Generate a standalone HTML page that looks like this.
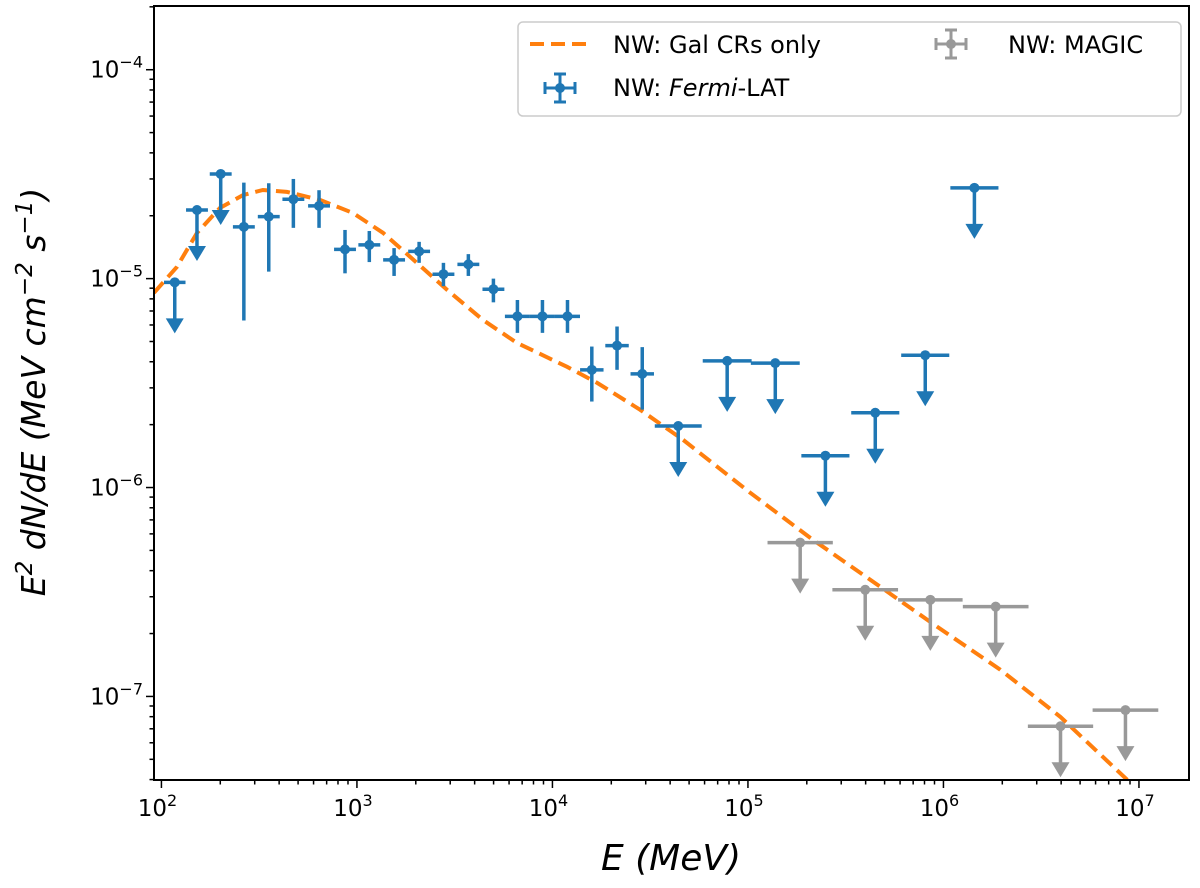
<!DOCTYPE html>
<html><head><meta charset="utf-8"><style>
html,body{margin:0;padding:0;background:#fff;}
svg{display:block;font-family:"DejaVu Sans","Liberation Sans",sans-serif;}
</style></head><body>
<svg id="chart" width="1200" height="888" viewBox="0 0 1200 888" xmlns="http://www.w3.org/2000/svg">
<g id="plot"></g>
<g id="axes"></g>
<text x="671" y="870" font-size="36" font-style="italic" text-anchor="middle">E (MeV)</text>
<text transform="translate(45,392) rotate(-90)" font-size="33" font-style="italic" text-anchor="middle">E<tspan dy="-13" font-size="23">2</tspan><tspan dy="13"> dN/dE (MeV cm</tspan><tspan dy="-13" font-size="23">−2</tspan><tspan dy="13"> s</tspan><tspan dy="-13" font-size="23">−1</tspan><tspan dy="13">)</tspan></text>
<g>
<rect x="518" y="22" width="663" height="94" rx="5" fill="#fff" stroke="#ccc" stroke-width="1.5"/>
<g>
<line x1="530" y1="44" x2="590" y2="44" stroke="#ff7f0e" stroke-width="4" stroke-dasharray="14,7"/>
<text x="613" y="53" font-size="24">NW: Gal CRs only</text></g>
<g>
<line x1="545" y1="88" x2="575" y2="88" stroke="#1f77b4" stroke-width="3"/>
<line x1="560" y1="74" x2="560" y2="102" stroke="#1f77b4" stroke-width="3"/>
<line x1="545" y1="82" x2="545" y2="94" stroke="#1f77b4" stroke-width="3"/>
<line x1="575" y1="82" x2="575" y2="94" stroke="#1f77b4" stroke-width="3"/>
<line x1="554" y1="74" x2="566" y2="74" stroke="#1f77b4" stroke-width="3"/>
<line x1="554" y1="102" x2="566" y2="102" stroke="#1f77b4" stroke-width="3"/>
<circle cx="560" cy="88" r="5" fill="#1f77b4"/>
<text x="613" y="96" font-size="24">NW: <tspan font-style="italic">Fermi</tspan>-LAT</text></g>
<g>
<line x1="936" y1="44" x2="966" y2="44" stroke="#999" stroke-width="3"/>
<line x1="951" y1="30" x2="951" y2="58" stroke="#999" stroke-width="3"/>
<line x1="936" y1="38" x2="936" y2="50" stroke="#999" stroke-width="3"/>
<line x1="966" y1="38" x2="966" y2="50" stroke="#999" stroke-width="3"/>
<line x1="945" y1="30" x2="957" y2="30" stroke="#999" stroke-width="3"/>
<line x1="945" y1="58" x2="957" y2="58" stroke="#999" stroke-width="3"/>
<circle cx="951" cy="44" r="5" fill="#999"/>
<text x="1008" y="53" font-size="24">NW: MAGIC</text></g>
</g>
</svg>
<script>
// Fermi-LAT data points (MeV, MeV cm^-2 s^-1)
const fermiE = [117,152,201,264,354,473,640,869,1157,1549,2080,2770,3715,4990,6620,8890,11940,15900,21400,28800,44000,78300,138000,249000,448000,807000,1440000];
const fermiF = [9.6e-6,2.13e-5,3.17e-5,1.77e-5,1.98e-5,2.40e-5,2.23e-5,1.38e-5,1.45e-5,1.23e-5,1.35e-5,1.05e-5,1.17e-5,8.9e-6,6.6e-6,6.6e-6,6.6e-6,3.66e-6,4.78e-6,3.5e-6,1.97e-6,4.04e-6,3.94e-6,1.42e-6,2.28e-6,4.3e-6,2.72e-5];
const fermiHi = [null,null,null,2.88e-5,2.86e-5,3.0e-5,2.65e-5,1.71e-5,1.69e-5,1.40e-5,1.50e-5,1.19e-5,1.31e-5,1.0e-5,7.9e-6,7.9e-6,7.9e-6,4.73e-6,5.9e-6,4.7e-6,null,null,null,null,null,null,null];
const fermiLo = [null,null,null,6.3e-6,1.08e-5,1.75e-5,1.75e-5,1.06e-5,1.20e-5,1.03e-5,1.19e-5,9.2e-6,1.03e-5,7.7e-6,5.5e-6,5.5e-6,5.5e-6,2.58e-6,3.66e-6,2.36e-6,null,null,null,null,null,null,null];
const fermiUL = [1,1,1,0,0,0,0,0,0,0,0,0,0,0,0,0,0,0,0,0,1,1,1,1,1,1,1];
const fermiHalfDex = [0.055,0.056,0.056,0.056,0.056,0.056,0.056,0.056,0.056,0.056,0.056,0.056,0.056,0.056,0.064,0.064,0.064,0.06,0.06,0.06,0.12,0.125,0.125,0.123,0.123,0.123,0.123];
// MAGIC upper limits
const magicE = [185000,398000,857000,1850000,3970000,8530000];
const magicF = [5.45e-7,3.24e-7,2.90e-7,2.69e-7,7.2e-8,8.6e-8];
const magicHalfDex = [0.167,0.168,0.165,0.168,0.167,0.168];
// Model curve (log10 E, log10 E2dN/dE)
const modelLogE = [1.962,2.079,2.182,2.299,2.417,2.519,2.642,2.811,2.980,3.134,3.308,3.461,3.645,3.819,4.075,4.229,4.449,4.669,5.012,5.319,5.677,5.969,6.291,6.598,6.941,7.059];
const modelLogF = [-5.068,-4.944,-4.781,-4.662,-4.600,-4.576,-4.585,-4.623,-4.686,-4.781,-4.925,-5.054,-5.198,-5.308,-5.422,-5.499,-5.628,-5.772,-6.025,-6.241,-6.475,-6.667,-6.872,-7.098,-7.400,-7.496];
const xTickExp = [2,3,4,5,6,7];
const yTickExp = [-4,-5,-6,-7];

const NS="http://www.w3.org/2000/svg";
const L=154,R=1189,T=6,B=780;
const xmin=1.962,xmax=7.256,ymin=-7.4,ymax=-3.695;
function xs(e){return L+(Math.log10(e)-xmin)/(xmax-xmin)*(R-L);}
function xl(l){return L+(l-xmin)/(xmax-xmin)*(R-L);}
function ys(f){return B-(Math.log10(f)-ymin)/(ymax-ymin)*(B-T);}
function yl(l){return B-(l-ymin)/(ymax-ymin)*(B-T);}
function mk(tag,attrs,parent){const e=document.createElementNS(NS,tag);for(const k in attrs)e.setAttribute(k,attrs[k]);parent.appendChild(e);return e;}
const plot=document.getElementById('plot'),axes=document.getElementById('axes');
const clip=mk('clipPath',{id:'cp'},plot);mk('rect',{x:L,y:T,width:R-L,height:B-T},clip);
const g=mk('g',{'clip-path':'url(#cp)'},plot);

// model
let d='';modelLogE.forEach((le,i)=>{d+=(i?'L':'M')+xl(le).toFixed(1)+','+yl(modelLogF[i]).toFixed(1);});
const curve=mk('path',{d:d,fill:'none',stroke:'#ff7f0e','stroke-width':4,'stroke-dasharray':'14,7'},g);



function drawPoint(e,f,hd,hi,lo,ul,col,name){
  const pg=mk('g',{},g);
  
  
  const x=xs(e),y=ys(f),le=Math.log10(e);
  mk('line',{x1:xl(le-hd),x2:xl(le+hd),y1:y,y2:y,stroke:col,'stroke-width':3.5},pg);
  if(ul){
    mk('line',{x1:x,x2:x,y1:y,y2:y+38,stroke:col,'stroke-width':3.5},pg);
    mk('path',{d:`M${x-9},${y+36}L${x+9},${y+36}L${x},${y+51}Z`,fill:col},pg);
  } else if(hi!=null){
    mk('line',{x1:x,x2:x,y1:ys(hi),y2:ys(lo),stroke:col,'stroke-width':3.5},pg);
  }
  mk('circle',{cx:x,cy:y,r:5,fill:col},pg);
}
fermiE.forEach((e,i)=>drawPoint(e,fermiF[i],fermiHalfDex[i],fermiHi[i],fermiLo[i],fermiUL[i],'#1f77b4','fermi-point'));
magicE.forEach((e,i)=>drawPoint(e,magicF[i],magicHalfDex[i],null,null,1,'#999999','magic-upper-limit'));

// axes frame
mk('rect',{x:L,y:T,width:R-L,height:B-T,fill:'none',stroke:'#000','stroke-width':2},axes);
// x ticks
for(let p=1;p<=7;p++){for(let m=1;m<10;m++){const lv=p+Math.log10(m);if(lv<xmin||lv>xmax)continue;const x=xl(lv);
  mk('line',{x1:x,x2:x,y1:B,y2:B+(m==1?8:4.5),stroke:'#000','stroke-width':1.5},axes);}}
xTickExp.forEach(p=>{const t=mk('text',{x:xl(p)-4,y:B+36,'font-size':23,'text-anchor':'middle'},axes);
  
  
  t.innerHTML='10<tspan dy="-10" font-size="16">'+p+'</tspan>';});
// y ticks
for(let p=-8;p<=-4;p++){for(let m=1;m<10;m++){const lv=p+Math.log10(m);if(lv<ymin||lv>ymax)continue;const y=yl(lv);
  mk('line',{x1:L,x2:L-(m==1?8:4.5),y1:y,y2:y,stroke:'#000','stroke-width':1.5},axes);}}
yTickExp.forEach(p=>{const t=mk('text',{x:143,y:yl(p)+8,'font-size':23,'text-anchor':'end'},axes);
  
  
  t.innerHTML='10<tspan dy="-10" font-size="16">−'+(-p)+'</tspan>';});
</script>
</body></html>
